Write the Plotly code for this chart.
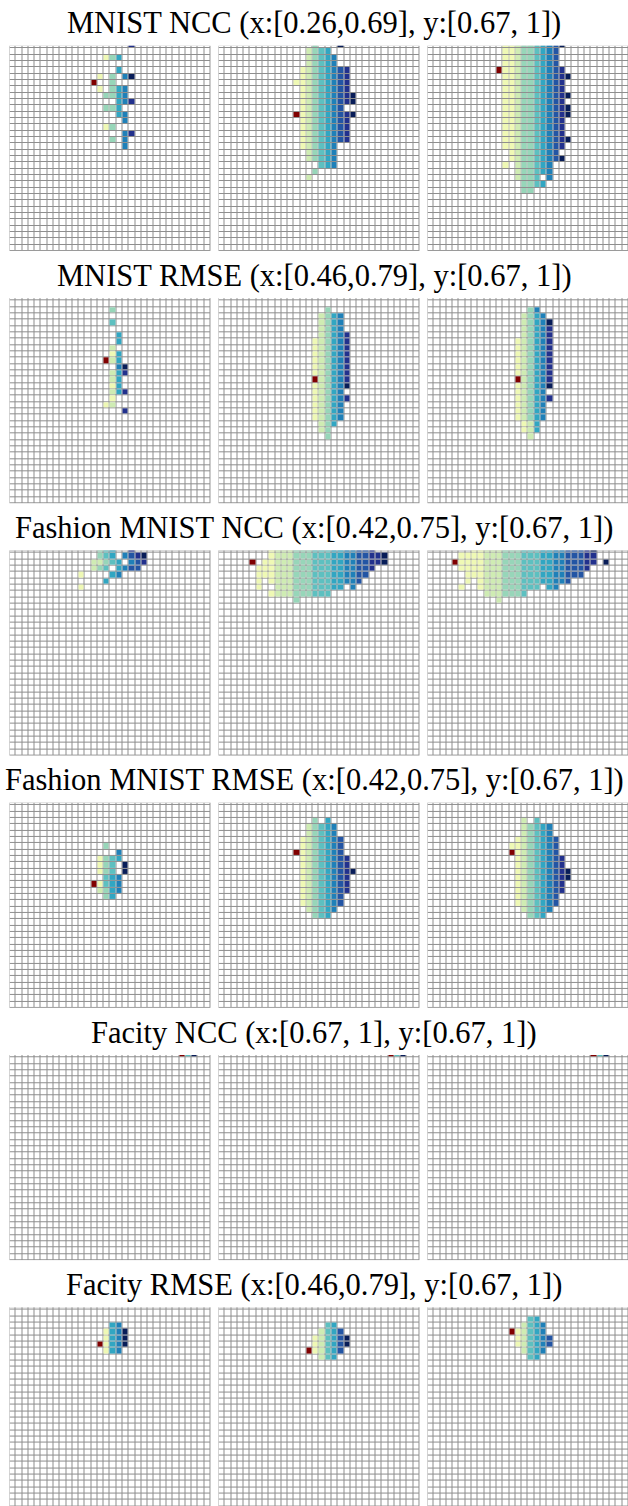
import plotly.graph_objects as go

W, H = 628, 1506
NCOL, NROW = 32, 33

titles = [
    "MNIST NCC (x:[0.26,0.69], y:[0.67, 1])",
    "MNIST RMSE (x:[0.46,0.79], y:[0.67, 1])",
    "Fashion MNIST NCC (x:[0.42,0.75], y:[0.67, 1])",
    "Fashion MNIST RMSE (x:[0.42,0.75], y:[0.67, 1])",
    "Facity NCC (x:[0.67, 1], y:[0.67, 1])",
    "Facity RMSE (x:[0.46,0.79], y:[0.67, 1])",
]

# Cell entries: "row start_col cells"; digits = colour level 0-9,
# '#' = level taken from the panel's column ramp, 'M' = query cell, '.' = empty.
mnist_ncc_a = [
    "0 19 8", "2 15 135", "4 17 5", "5 14 1.3.69", "6 13 M..3", "7 14 1.356",
    "8 15 3356", "9 17 568", "10 15 335", "11 17 56", "12 18 6", "13 15 13",
    "14 18 68", "15 16 3.6", "16 18 6",
]
mnist_ncc_b = [
    "0 15 3...9", "1 14 2345", "2 14 23456", "3 14 23456", "4 13 12345678",
    "5 13 12345678", "6 12 112345678", "7 13 12345678", "8 13 123456789",
    "9 13 123456789", "10 13 1234567", "11 12 M123456789", "12 13 12345678",
    "13 13 12345678", "14 13 12345678", "15 13 12345678", "16 13 123456",
    "17 14 23456", "18 14 23456", "19 16 456", "20 15 3", "21 14 2",
]
mnist_ncc_c = [
    "0 12 1123345679", "1 12 112334567", "2 12 112334567", "3 12 112334567",
    "4 11 M1123345678", "5 12 11233456789", "6 12 1123345678", "7 12 1123345678",
    "8 12 11233456789", "9 12 1123345678", "10 12 11233456789", "11 12 11233456789",
    "12 12 1123345678", "13 12 1123345678", "14 12 1123345678", "15 12 11233456789",
    "16 12 1123345678", "17 13 12334567", "18 13 123345679", "19 12 1.233456",
    "20 14 233456", "21 14 2334.6", "22 15 3345", "23 15 33",
]

mnist_rmse_a = [
    "2 16 3", "4 16 4", "6 17 5", "7 17 5", "8 16 2", "9 16 15", "10 15 M25",
    "11 17 69", "12 16 258", "13 16 25", "14 16 15", "15 16 258", "16 16 1",
    "17 15 12", "18 18 8",
]
mnist_rmse_b = [
    "2 17 3", "3 16 2356", "4 16 2356", "5 16 2356", "6 16 23568",
    "7 15 123568", "8 15 123568", "9 15 123568", "10 15 123568", "11 15 123568",
    "12 15 123568", "13 15 M23568", "14 15 123569", "15 15 12356", "16 15 123568",
    "17 15 12356", "18 15 12356", "19 15 12356", "20 16 235", "21 16 23", "22 17 3",
]
mnist_rmse_c = [
    "2 16 36", "3 15 2356", "4 15 23569", "5 15 23568", "6 15 23568",
    "7 14 123568", "8 14 123568", "9 14 123568", "10 14 123568", "11 14 123568",
    "12 14 123568", "13 14 M23568", "14 14 123569", "15 14 12356", "16 14 123568",
    "17 14 12356", "18 14 12356", "19 14 12356", "20 15 125", "21 15 125", "22 16 2",
]

fashion_ncc_a = [
    "0 14 345..8", "1 14 345.6789", "2 13 22345.678", "3 13 234.5677",
    "4 11 1....56", "5 15 5", "6 11 1",
]
fashion_ncc_b_ramp = "6 111222333444556677889"
fashion_ncc_b = [
    "0 8 #################", "1 8 ###################", "2 5 M.####################",
    "3 6 ###################", "4 6 ##################", "5 6 #.###############",
    "6 6 #..###########.#", "7 8 ##########", "8 12 #",
]
fashion_ncc_c_ramp = "5 1111222333444556677788"
fashion_ncc_c = [
    "0 7 ###################9", "1 5 ######################",
    "2 4 M######################.9", "3 5 #####################",
    "4 6 ###################", "5 6 #.###############", "6 5 #..##########.##",
    "7 9 #######", "8 11 #",
]

fashion_rmse_a = [
    "7 15 3", "8 17 6", "9 14 1345", "10 14 134.9", "11 14 134.9", "12 15 456",
    "13 13 M1456", "14 14 2356", "15 15 35",
]
fashion_rmse_b_ramp = "13 123456789"
fashion_rmse_b = [
    "3 15 #.#", "4 14 #####", "5 14 #####", "6 13 #######", "7 13 #######",
    "8 12 M#######", "9 13 ########", "10 13 ########", "11 13 #########",
    "12 13 ########", "13 13 ########", "14 13 ########", "15 13 #######",
    "16 13 #######", "17 14 #####", "18 15 ###",
]
fashion_rmse_c_ramp = "13 1123456789"
fashion_rmse_c = [
    "3 15 #.#", "4 15 #####", "5 15 #####", "6 14 #######", "7 13 ########",
    "8 13 M#######", "9 14 ########", "10 14 ########", "11 14 #########",
    "12 14 #########", "13 14 ########", "14 14 ########", "15 14 #######",
    "16 14 #######", "17 15 #####", "18 16 ###",
]

facity_ncc_a = ["0 27 M49"]
facity_ncc_b = ["0 27 M49"]
facity_ncc_c = ["0 26 M49"]

facity_rmse_a = ["3 16 56", "4 15 1569", "5 15 1569", "6 14 M1569", "7 15 156"]
facity_rmse_b_ramp = "15 124579"
facity_rmse_b = [
    "3 17 ##", "4 16 ####", "5 15 ######", "6 15 ######", "7 14 M#####", "8 16 ###",
]
facity_rmse_c_ramp = "14 1245679"
facity_rmse_c = [
    "2 16 ##", "3 15 ####", "4 13 M#####", "5 14 ######", "6 14 ######",
    "7 15 ####", "8 16 ##",
]

panels = [
    [(mnist_ncc_a, None), (mnist_ncc_b, None), (mnist_ncc_c, None)],
    [(mnist_rmse_a, None), (mnist_rmse_b, None), (mnist_rmse_c, None)],
    [(fashion_ncc_a, None), (fashion_ncc_b, fashion_ncc_b_ramp), (fashion_ncc_c, fashion_ncc_c_ramp)],
    [(fashion_rmse_a, None), (fashion_rmse_b, fashion_rmse_b_ramp), (fashion_rmse_c, fashion_rmse_c_ramp)],
    [(facity_ncc_a, None), (facity_ncc_b, None), (facity_ncc_c, None)],
    [(facity_rmse_a, None), (facity_rmse_b, facity_rmse_b_ramp), (facity_rmse_c, facity_rmse_c_ramp)],
]

YLGNBU = ["#ffffd9", "#edf8b1", "#c7e9b4", "#7fcdbb", "#41b6c4",
          "#1d91c0", "#225ea8", "#253494", "#081d58"]
colorscale = [[i / 8, c] for i, c in enumerate(YLGNBU)]
QUERY = "#800000"
GRID = "#8e8e8e"


def build(entries, ramp):
    levels = {}
    if ramp:
        start, vals = ramp.split()
        for k, ch in enumerate(vals):
            levels[int(start) + k] = int(ch)
    z = [[None] * NCOL for _ in range(NROW)]
    q = [[None] * NCOL for _ in range(NROW)]
    for entry in entries:
        r, c, cells = entry.split()
        r, c = int(r), int(c)
        for k, ch in enumerate(cells):
            col = c + k
            if ch == ".":
                continue
            if ch == "M":
                q[r][col] = 1
            elif ch == "#":
                z[r][col] = levels[col]
            else:
                z[r][col] = int(ch)
    return z, q


# panel geometry in pixels
X_LEFT = [9.5, 218.5, 427.5]
CELL_W, CELL_H = 6.28, 6.33
ROW_STEP = 252.3
ROW0_TOP = 42.0
CLIP = 3.8

fig = go.Figure()
layout = dict(
    width=W, height=H, margin=dict(l=0, r=0, t=0, b=0),
    paper_bgcolor="white", plot_bgcolor=GRID, showlegend=False,
    annotations=[],
)

xs = list(range(NCOL))
ys = list(range(NROW))
blank = [[0] * NCOL for _ in range(NROW)]

n = 0
for i, row in enumerate(panels):
    top = ROW0_TOP + ROW_STEP * i
    vis_top = top + CLIP
    vis_bot = min(top + NROW * CELL_H, H)
    y_lo = -0.5 + CLIP / CELL_H
    y_hi = -0.5 + (vis_bot - top) / CELL_H
    layout["annotations"].append(dict(
        text=titles[i], x=0.5, xref="paper", xanchor="center",
        y=1 - (top - 18.5) / H, yref="paper", yanchor="middle",
        showarrow=False, font=dict(family="Liberation Serif", size=30.5, color="black"),
    ))
    for j, (entries, ramp) in enumerate(row):
        n += 1
        sfx = "" if n == 1 else str(n)
        xa, ya = "x" + sfx, "y" + sfx
        x0 = X_LEFT[j]
        x1 = min(x0 + NCOL * CELL_W, W)
        x_hi = -0.5 + (x1 - x0) / CELL_W
        layout["xaxis" + sfx] = dict(
            domain=[x0 / W, x1 / W], range=[-0.5, x_hi], anchor=ya,
            showgrid=False, zeroline=False, showticklabels=False, ticks="",
            fixedrange=True,
        )
        layout["yaxis" + sfx] = dict(
            domain=[1 - vis_bot / H, 1 - vis_top / H], range=[y_hi, y_lo], anchor=xa,
            showgrid=False, zeroline=False, showticklabels=False, ticks="",
            fixedrange=True,
        )
        z, q = build(entries, ramp)
        common = dict(x=xs, y=ys, xaxis=xa, yaxis=ya, xgap=1, ygap=1,
                      showscale=False, hoverinfo="skip")
        fig.add_trace(go.Heatmap(z=blank, colorscale=[[0, "white"], [1, "white"]],
                                 zmin=0, zmax=1, **common))
        fig.add_trace(go.Heatmap(z=z, colorscale=colorscale, zmin=0, zmax=9, **common))
        fig.add_trace(go.Heatmap(z=q, colorscale=[[0, QUERY], [1, QUERY]],
                                 zmin=0, zmax=1, **common))

fig.update_layout(**layout)
fig.write_html("out.html")
